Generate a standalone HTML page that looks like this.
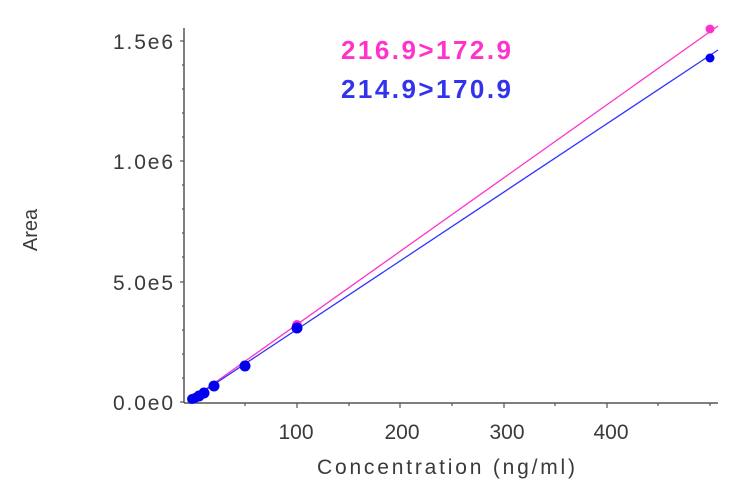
<!DOCTYPE html>
<html><head><style>body{margin:0;background:#fff}</style></head><body>
<svg width="750" height="495" xmlns="http://www.w3.org/2000/svg" font-family="Liberation Sans, sans-serif">
<rect width="750" height="495" fill="#fff"/>
<g stroke="#555" stroke-width="1.5" fill="none">
<line x1="184" y1="28" x2="184" y2="403"/>
<line x1="184" y1="403" x2="718" y2="403"/>
</g>
<g stroke="#555" stroke-width="1.2">
<line x1="180" y1="41" x2="184" y2="41"/><line x1="180" y1="161" x2="184" y2="161"/><line x1="180" y1="282" x2="184" y2="282"/><line x1="180" y1="402" x2="184" y2="402"/>
<line x1="182" y1="65" x2="184" y2="65"/><line x1="182" y1="89" x2="184" y2="89"/><line x1="182" y1="113" x2="184" y2="113"/><line x1="182" y1="137" x2="184" y2="137"/>
<line x1="182" y1="185" x2="184" y2="185"/><line x1="182" y1="209" x2="184" y2="209"/><line x1="182" y1="233" x2="184" y2="233"/><line x1="182" y1="257" x2="184" y2="257"/>
<line x1="182" y1="306" x2="184" y2="306"/><line x1="182" y1="330" x2="184" y2="330"/><line x1="182" y1="354" x2="184" y2="354"/><line x1="182" y1="378" x2="184" y2="378"/>
<line x1="297" y1="403" x2="297" y2="408"/><line x1="400" y1="403" x2="400" y2="408"/><line x1="504" y1="403" x2="504" y2="408"/><line x1="607" y1="403" x2="607" y2="408"/>
<line x1="245" y1="403" x2="245" y2="406"/><line x1="349" y1="403" x2="349" y2="406"/><line x1="452" y1="403" x2="452" y2="406"/><line x1="555" y1="403" x2="555" y2="406"/><line x1="658" y1="403" x2="658" y2="406"/><line x1="710" y1="403" x2="710" y2="406"/>
</g>
<g fill="#3a3a3a" font-size="21" text-anchor="end">
<text x="173" y="49" textLength="60">1.5e6</text><text x="173" y="169" textLength="60">1.0e6</text><text x="173" y="290" textLength="60">5.0e5</text><text x="173" y="410" textLength="60">0.0e0</text>
</g>
<g fill="#3a3a3a" font-size="21" text-anchor="middle">
<text x="296" y="439">100</text><text x="402" y="439">200</text><text x="507" y="439">300</text><text x="611" y="439">400</text>
<text x="446" y="474" textLength="258">Concentration (ng/ml)</text>
<text transform="translate(37,230) rotate(-90)" font-size="20">Area</text>
</g>
<line x1="189" y1="401" x2="718" y2="26" stroke="#ff33cc" stroke-width="1.3"/>
<line x1="189" y1="401" x2="718" y2="50" stroke="#3333ff" stroke-width="1.3"/>
<g fill="#ff33cc"><circle cx="710" cy="29" r="4.5"/><circle cx="297" cy="325" r="5"/></g>
<g fill="#0000ee">
<circle cx="710" cy="58" r="4.5"/><circle cx="297" cy="328" r="5.5"/><circle cx="245" cy="366" r="5.5"/><circle cx="214" cy="386" r="5.5"/><circle cx="204" cy="393" r="5.5"/><circle cx="199" cy="396" r="5.5"/><circle cx="195" cy="398" r="5"/><circle cx="192" cy="399" r="5"/>
</g>
<text x="341" y="59" font-size="26" font-weight="bold" fill="#ff33cc" textLength="170">216.9&gt;172.9</text>
<text x="341" y="98" font-size="26" font-weight="bold" fill="#3333ee" textLength="170">214.9&gt;170.9</text>
</svg>
</body></html>
